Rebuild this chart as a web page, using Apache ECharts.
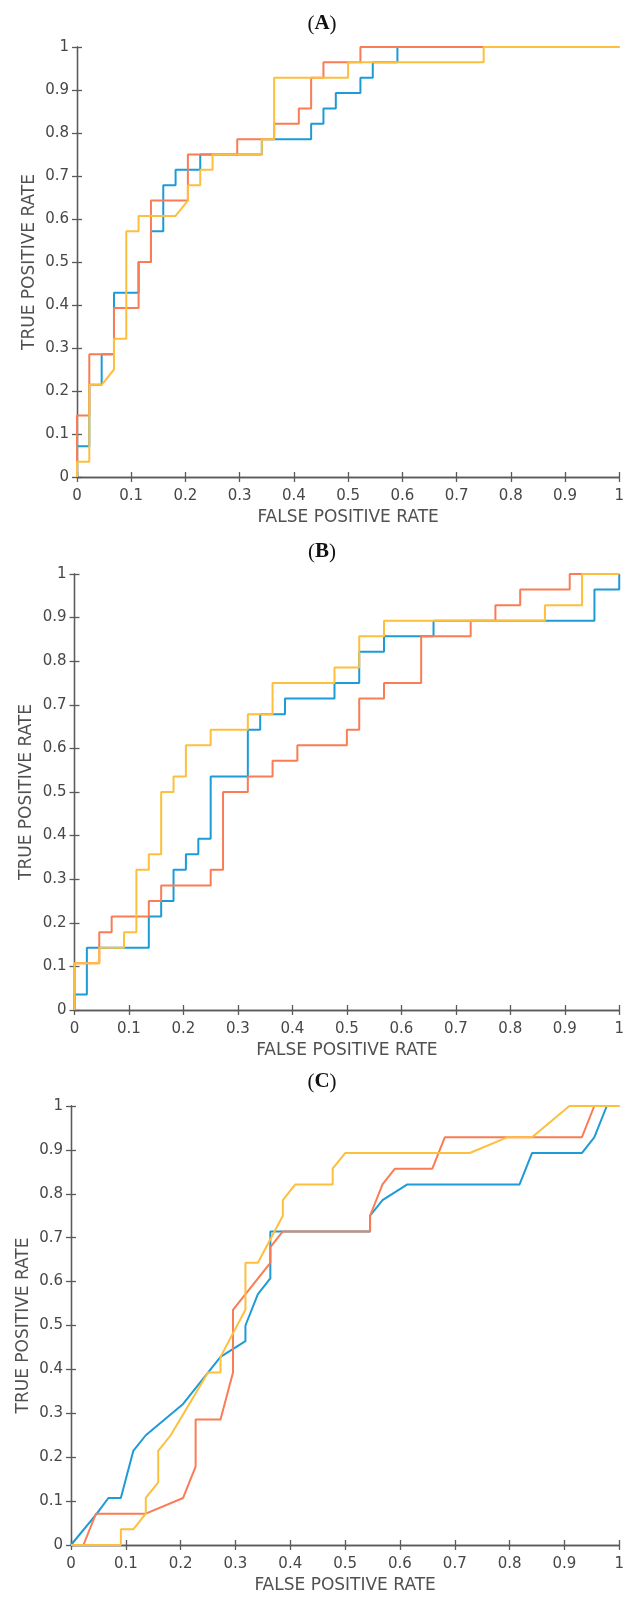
<!DOCTYPE html>
<html>
<head>
<meta charset="utf-8">
<script src="https://cdn.jsdelivr.net/npm/echarts@6/dist/echarts.min.js"></script>
<style>html,body{margin:0;padding:0;background:#fff}#c{width:627px;height:1598px}</style>
</head>
<body>
<div id="c"></div>
<script>
// ---- data: [FPR, TPR] vertices of each ROC curve ----
const panelTitles = ['A', 'B', 'C'];

const aBlue = [[0,0],[0,0.0714],[0.0227,0.0714],[0.0227,0.2143],[0.0455,0.2143],[0.0455,0.2857],[0.0682,0.2857],[0.0682,0.4286],[0.1136,0.4286],[0.1136,0.5],[0.1364,0.5],[0.1364,0.5714],[0.1591,0.5714],[0.1591,0.6786],[0.1818,0.6786],[0.1818,0.7143],[0.2273,0.7143],[0.2273,0.75],[0.3409,0.75],[0.3409,0.7857],[0.4318,0.7857],[0.4318,0.8214],[0.4545,0.8214],[0.4545,0.8571],[0.4773,0.8571],[0.4773,0.8929],[0.5227,0.8929],[0.5227,0.9286],[0.5455,0.9286],[0.5455,0.9643],[0.5909,0.9643],[0.5909,1],[1,1]];
const aRed = [[0,0],[0,0.1429],[0.0227,0.1429],[0.0227,0.2857],[0.0682,0.2857],[0.0682,0.3929],[0.1136,0.3929],[0.1136,0.5],[0.1364,0.5],[0.1364,0.6429],[0.2045,0.6429],[0.2045,0.75],[0.2955,0.75],[0.2955,0.7857],[0.3636,0.7857],[0.3636,0.8214],[0.4091,0.8214],[0.4091,0.8571],[0.4318,0.8571],[0.4318,0.9286],[0.4545,0.9286],[0.4545,0.9643],[0.5227,0.9643],[0.5227,1],[1,1]];
const aYellow = [[0,0],[0,0.0357],[0.0227,0.0357],[0.0227,0.2143],[0.0455,0.2143],[0.0682,0.25],[0.0682,0.3214],[0.0909,0.3214],[0.0909,0.5714],[0.1136,0.5714],[0.1136,0.6071],[0.1818,0.6071],[0.2045,0.6429],[0.2045,0.6786],[0.2273,0.6786],[0.2273,0.7143],[0.25,0.7143],[0.25,0.75],[0.3409,0.75],[0.3409,0.7857],[0.3636,0.7857],[0.3636,0.9286],[0.5,0.9286],[0.5,0.9643],[0.75,0.9643],[0.75,1],[1,1]];

const bBlue = [[0,0],[0,0.0357],[0.0227,0.0357],[0.0227,0.1429],[0.1364,0.1429],[0.1364,0.2143],[0.1591,0.2143],[0.1591,0.25],[0.1818,0.25],[0.1818,0.3214],[0.2045,0.3214],[0.2045,0.3571],[0.2273,0.3571],[0.2273,0.3929],[0.25,0.3929],[0.25,0.5357],[0.3182,0.5357],[0.3182,0.6429],[0.3409,0.6429],[0.3409,0.6786],[0.3864,0.6786],[0.3864,0.7143],[0.4773,0.7143],[0.4773,0.75],[0.5227,0.75],[0.5227,0.8214],[0.5682,0.8214],[0.5682,0.8571],[0.6591,0.8571],[0.6591,0.8929],[0.9545,0.8929],[0.9545,0.9643],[1,0.9643],[1,1]];
const bRed = [[0,0],[0,0.1071],[0.0455,0.1071],[0.0455,0.1786],[0.0682,0.1786],[0.0682,0.2143],[0.1364,0.2143],[0.1364,0.25],[0.1591,0.25],[0.1591,0.2857],[0.25,0.2857],[0.25,0.3214],[0.2727,0.3214],[0.2727,0.5],[0.3182,0.5],[0.3182,0.5357],[0.3636,0.5357],[0.3636,0.5714],[0.4091,0.5714],[0.4091,0.6071],[0.5,0.6071],[0.5,0.6429],[0.5227,0.6429],[0.5227,0.7143],[0.5682,0.7143],[0.5682,0.75],[0.6364,0.75],[0.6364,0.8571],[0.7273,0.8571],[0.7273,0.8929],[0.7727,0.8929],[0.7727,0.9286],[0.8182,0.9286],[0.8182,0.9643],[0.9091,0.9643],[0.9091,1],[1,1]];
const bYellow = [[0,0],[0,0.1071],[0.0455,0.1071],[0.0455,0.1429],[0.0909,0.1429],[0.0909,0.1786],[0.1136,0.1786],[0.1136,0.3214],[0.1364,0.3214],[0.1364,0.3571],[0.1591,0.3571],[0.1591,0.5],[0.1818,0.5],[0.1818,0.5357],[0.2045,0.5357],[0.2045,0.6071],[0.25,0.6071],[0.25,0.6429],[0.3182,0.6429],[0.3182,0.6786],[0.3636,0.6786],[0.3636,0.75],[0.4773,0.75],[0.4773,0.7857],[0.5227,0.7857],[0.5227,0.8571],[0.5682,0.8571],[0.5682,0.8929],[0.8636,0.8929],[0.8636,0.9286],[0.9318,0.9286],[0.9318,1],[1,1]];

const cBlue = [[0,0],[0.0471,0.0714],[0.0682,0.1071],[0.0909,0.1071],[0.1136,0.2143],[0.1364,0.25],[0.2045,0.3214],[0.2727,0.4286],[0.3182,0.4643],[0.3182,0.5],[0.3409,0.5714],[0.3636,0.6071],[0.3636,0.7143],[0.3864,0.7143],[0.5455,0.7143],[0.5455,0.75],[0.5682,0.7857],[0.6136,0.8214],[0.8182,0.8214],[0.8409,0.8929],[0.9318,0.8929],[0.9545,0.9286],[0.9773,1],[1,1]];
const cRed = [[0,0],[0.0227,0],[0.0455,0.0714],[0.1364,0.0714],[0.2045,0.1071],[0.2273,0.1786],[0.2273,0.2857],[0.2727,0.2857],[0.2955,0.3929],[0.2955,0.5357],[0.3636,0.6429],[0.3636,0.6786],[0.3864,0.7143],[0.5455,0.7143],[0.5455,0.75],[0.5682,0.8214],[0.5909,0.8571],[0.6591,0.8571],[0.6818,0.9286],[0.9318,0.9286],[0.9545,1],[1,1]];
const cYellow = [[0,0],[0.0909,0],[0.0909,0.0357],[0.1136,0.0357],[0.1364,0.0714],[0.1364,0.1071],[0.1591,0.1429],[0.1591,0.2143],[0.1818,0.25],[0.25,0.3929],[0.2727,0.3929],[0.2727,0.4286],[0.3182,0.5357],[0.3182,0.6429],[0.3409,0.6429],[0.3864,0.75],[0.3864,0.7857],[0.4091,0.8214],[0.4773,0.8214],[0.4773,0.8571],[0.5,0.8929],[0.7273,0.8929],[0.7955,0.9286],[0.8409,0.9286],[0.9091,1],[1,1]];

const panelSeries = [[aBlue, aRed, aYellow], [bBlue, bRed, bYellow], [cBlue, cRed, cYellow]];
const xName = 'FALSE POSITIVE RATE';
const yName = 'TRUE POSITIVE RATE';

// ---- layout / style ----
const grids = [
  {left: 77, right: 7, top: 47, height: 430},
  {left: 74.5, right: 2, top: 574, height: 436},
  {left: 71, right: 1, top: 1106, height: 439}
];
const titleY = [24, 552, 1082];
const colors = ['#1d9bd6', '#fa7c55', '#fdbf3c'];
const axisColor = '#5a5a5a';
const labelColor = '#474747';
const tickFont = 'DejaVu Sans, Verdana, sans-serif';
const nameFont = 'DejaVu Sans, sans-serif';

const option = {backgroundColor: '#fff', animation: false, grid: [], xAxis: [], yAxis: [], series: [], graphic: []};

grids.forEach((g, i) => {
  option.grid.push(g);
  const common = {min: 0, max: 1, interval: 0.1, gridIndex: i, splitLine: {show: false},
    axisLine: {show: true, lineStyle: {color: axisColor, width: 1.3}},
    axisTick: {show: true, inside: true, length: 5, lineStyle: {color: axisColor, width: 1.3}}};
  option.xAxis.push(Object.assign({}, common, {type: 'value', position: 'bottom',
    axisLabel: {margin: 12, color: labelColor, fontSize: 15, fontFamily: tickFont,
      formatter: v => String(+v.toFixed(1))},
    name: xName, nameLocation: 'middle', nameGap: 32, nameMoveOverlap: false,
    nameTextStyle: {color: '#505050', fontSize: 17, fontFamily: nameFont}}));
  option.xAxis.push(Object.assign({}, common, {type: 'value', position: 'top', axisLabel: {show: false}}));
  option.yAxis.push(Object.assign({}, common, {type: 'value', position: 'left',
    axisLabel: {margin: 8, color: labelColor, fontSize: 15, fontFamily: tickFont,
      formatter: v => String(+v.toFixed(1))},
    name: yName, nameLocation: 'middle', nameGap: 39, nameMoveOverlap: false,
    nameTextStyle: {color: '#505050', fontSize: 17, fontFamily: nameFont}}));
  option.yAxis.push(Object.assign({}, common, {type: 'value', position: 'right', axisLabel: {show: false}}));

  panelSeries[i].forEach((d, k) => {
    option.series.push({type: 'line', xAxisIndex: 2 * i, yAxisIndex: 2 * i, data: d,
      showSymbol: false, symbol: 'none', clip: false,
      lineStyle: {color: colors[k], width: 2}, z: 2 + k});
  });

  option.graphic.push({type: 'text', x: 322, y: titleY[i],
    style: {text: '{p|(}{b|' + panelTitles[i] + '}{p|)}', align: 'center', verticalAlign: 'middle',
      rich: {p: {fontFamily: 'Liberation Serif, serif', fontSize: 21, fill: '#111'},
             b: {fontFamily: 'Liberation Serif, serif', fontSize: 21, fontWeight: 'bold', fill: '#111'}}}});
});

const chart = echarts.init(document.getElementById('c'), null, {renderer: 'canvas'});
chart.setOption(option);
</script>
</body>
</html>
